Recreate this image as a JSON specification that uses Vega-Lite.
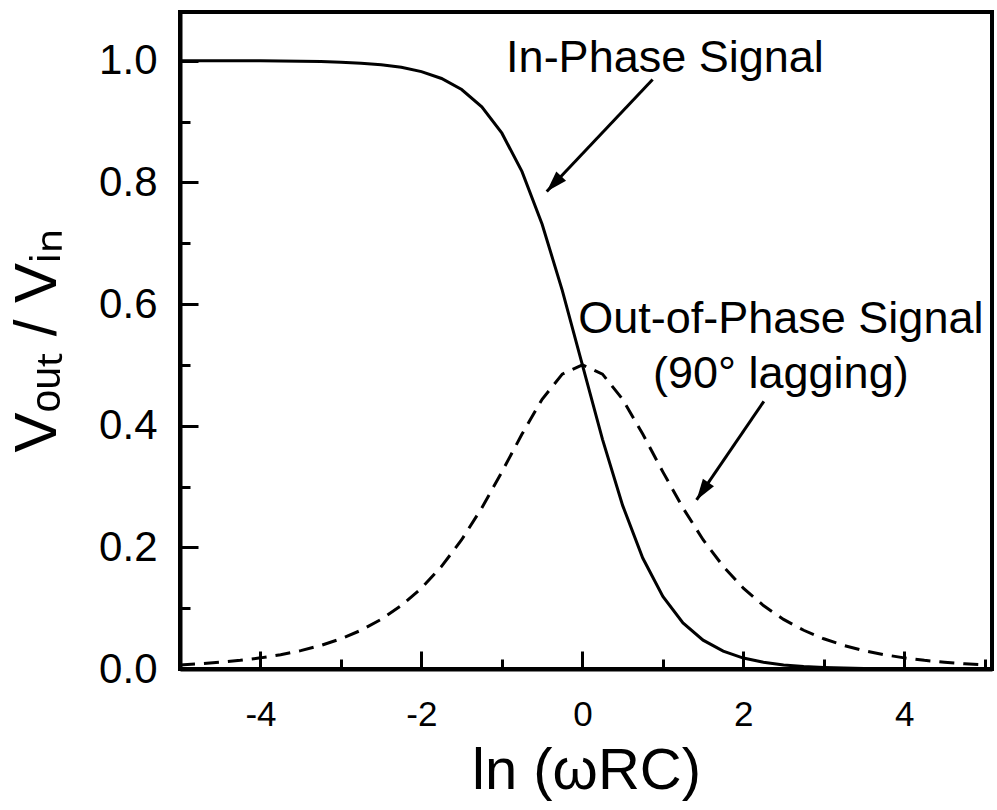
{
  "$schema": "https://vega.github.io/schema/vega-lite/v6.json",
  "width": 812,
  "height": 657,
  "autosize": {"type": "none"},
  "padding": {"left": 180, "top": 12, "right": 5, "bottom": 141},
  "background": "white",
  "config": {
    "view": {"stroke": "black", "strokeWidth": 4},
    "font": "Liberation Sans",
    "axis": {"grid": false, "domainColor": "black", "tickColor": "black", "labelColor": "black", "titleColor": "black", "titleFontWeight": "normal", "labelFont": "Liberation Sans", "titleFont": "Liberation Sans"}
  },
  "datasets": {
    "curves": [
      {"x": -5, "y": 0.99995, "s": "in"}, {"x": -4.75, "y": 0.99993, "s": "in"}, {"x": -4.5, "y": 0.99988, "s": "in"}, {"x": -4.25, "y": 0.9998, "s": "in"},
      {"x": -4, "y": 0.99966, "s": "in"}, {"x": -3.75, "y": 0.99945, "s": "in"}, {"x": -3.5, "y": 0.99909, "s": "in"}, {"x": -3.25, "y": 0.9985, "s": "in"},
      {"x": -3, "y": 0.99753, "s": "in"}, {"x": -2.75, "y": 0.99593, "s": "in"}, {"x": -2.5, "y": 0.99331, "s": "in"}, {"x": -2.25, "y": 0.98901, "s": "in"},
      {"x": -2, "y": 0.98201, "s": "in"}, {"x": -1.75, "y": 0.97069, "s": "in"}, {"x": -1.5, "y": 0.95257, "s": "in"}, {"x": -1.25, "y": 0.92414, "s": "in"},
      {"x": -1, "y": 0.8808, "s": "in"}, {"x": -0.75, "y": 0.81757, "s": "in"}, {"x": -0.5, "y": 0.73106, "s": "in"}, {"x": -0.25, "y": 0.62246, "s": "in"},
      {"x": 0, "y": 0.5, "s": "in"}, {"x": 0.25, "y": 0.37754, "s": "in"}, {"x": 0.5, "y": 0.26894, "s": "in"}, {"x": 0.75, "y": 0.18243, "s": "in"},
      {"x": 1, "y": 0.1192, "s": "in"}, {"x": 1.25, "y": 0.07586, "s": "in"}, {"x": 1.5, "y": 0.04743, "s": "in"}, {"x": 1.75, "y": 0.02931, "s": "in"},
      {"x": 2, "y": 0.01799, "s": "in"}, {"x": 2.25, "y": 0.01099, "s": "in"}, {"x": 2.5, "y": 0.00669, "s": "in"}, {"x": 2.75, "y": 0.00407, "s": "in"},
      {"x": 3, "y": 0.00247, "s": "in"}, {"x": 3.25, "y": 0.0015, "s": "in"}, {"x": 3.5, "y": 0.00091, "s": "in"}, {"x": 3.75, "y": 0.00055, "s": "in"},
      {"x": 4, "y": 0.00034, "s": "in"}, {"x": 4.25, "y": 0.0002, "s": "in"}, {"x": 4.5, "y": 0.00012, "s": "in"}, {"x": 4.75, "y": 0.00007, "s": "in"},
      {"x": 5, "y": 0.00005, "s": "in"},
      {"x": -5, "y": 0.00674, "s": "out"}, {"x": -4.75, "y": 0.00865, "s": "out"}, {"x": -4.5, "y": 0.01111, "s": "out"}, {"x": -4.25, "y": 0.01426, "s": "out"},
      {"x": -4, "y": 0.01831, "s": "out"}, {"x": -3.75, "y": 0.0235, "s": "out"}, {"x": -3.5, "y": 0.03017, "s": "out"}, {"x": -3.25, "y": 0.03871, "s": "out"},
      {"x": -3, "y": 0.04966, "s": "out"}, {"x": -2.75, "y": 0.06367, "s": "out"}, {"x": -2.5, "y": 0.08154, "s": "out"}, {"x": -2.25, "y": 0.10424, "s": "out"},
      {"x": -2, "y": 0.1329, "s": "out"}, {"x": -1.75, "y": 0.16868, "s": "out"}, {"x": -1.5, "y": 0.21255, "s": "out"}, {"x": -1.25, "y": 0.26477, "s": "out"},
      {"x": -1, "y": 0.32403, "s": "out"}, {"x": -0.75, "y": 0.38619, "s": "out"}, {"x": -0.5, "y": 0.44341, "s": "out"}, {"x": -0.25, "y": 0.48477, "s": "out"},
      {"x": 0, "y": 0.5, "s": "out"}, {"x": 0.25, "y": 0.48477, "s": "out"}, {"x": 0.5, "y": 0.44341, "s": "out"}, {"x": 0.75, "y": 0.38619, "s": "out"},
      {"x": 1, "y": 0.32403, "s": "out"}, {"x": 1.25, "y": 0.26477, "s": "out"}, {"x": 1.5, "y": 0.21255, "s": "out"}, {"x": 1.75, "y": 0.16868, "s": "out"},
      {"x": 2, "y": 0.1329, "s": "out"}, {"x": 2.25, "y": 0.10424, "s": "out"}, {"x": 2.5, "y": 0.08154, "s": "out"}, {"x": 2.75, "y": 0.06367, "s": "out"},
      {"x": 3, "y": 0.04966, "s": "out"}, {"x": 3.25, "y": 0.03871, "s": "out"}, {"x": 3.5, "y": 0.03017, "s": "out"}, {"x": 3.75, "y": 0.0235, "s": "out"},
      {"x": 4, "y": 0.01831, "s": "out"}, {"x": 4.25, "y": 0.01426, "s": "out"}, {"x": 4.5, "y": 0.01111, "s": "out"}, {"x": 4.75, "y": 0.00865, "s": "out"},
      {"x": 5, "y": 0.00674, "s": "out"}
    ],
    "labels": [
      {"x": 1.026, "y": 0.982, "label": "In-Phase Signal"},
      {"x": 2.466, "y": 0.553, "label": "Out-of-Phase Signal"},
      {"x": 2.466, "y": 0.462, "label": "(90° lagging)"}
    ],
    "arrows": [
      {"x0": 0.873, "y0": 0.969, "x1": -0.443, "y1": 0.785, "angle": 223.5},
      {"x0": 2.255, "y0": 0.44, "x1": 1.419, "y1": 0.278, "angle": 214.4}
    ]
  },
  "layer": [
    {
      "data": {"name": "curves"},
      "transform": [{"filter": "datum.s === 'in'"}],
      "mark": {"type": "line", "color": "black", "strokeWidth": 3},
      "encoding": {
        "x": {"field": "x", "type": "quantitative", "scale": {"domain": [-5, 5.09], "nice": false, "zero": false},
          "axis": {"orient": "bottom", "values": [-4, -2, 0, 2, 4], "labelExpr": "(datum.value < 0 ? '-' : '') + abs(datum.value)", "tickSize": -18, "tickWidth": 3, "domainWidth": 4, "labelFontSize": 35, "labelPadding": 46, "title": "ln (ωRC)", "titleFontSize": 58, "titlePadding": 10}},
        "y": {"field": "y", "type": "quantitative", "scale": {"domain": [0, 1.08], "nice": false, "zero": false},
          "axis": {"orient": "left", "values": [0, 0.2, 0.4, 0.6, 0.8, 1.0], "format": ".1f", "tickSize": -18, "tickWidth": 3, "domainWidth": 4, "labelFontSize": 42, "labelPadding": 41, "title": "Vₒᵤₜ / Vᵢₙ", "titleFontSize": 60, "titlePadding": 30}}
      }
    },
    {
      "data": {"name": "curves"},
      "transform": [{"filter": "datum.s === 'out'"}],
      "mark": {"type": "line", "color": "black", "strokeWidth": 3, "strokeDash": [15, 9]},
      "encoding": {
        "x": {"field": "x", "type": "quantitative",
          "axis": {"orient": "bottom", "values": [-3, -1, 1, 3, 5], "tickSize": -10, "tickWidth": 3, "domain": false, "labels": false, "title": null}},
        "y": {"field": "y", "type": "quantitative",
          "axis": {"orient": "left", "values": [0.1, 0.3, 0.5, 0.7, 0.9], "tickSize": -10, "tickWidth": 3, "domain": false, "labels": false, "title": null}}
      }
    },
    {
      "data": {"name": "labels"},
      "mark": {"type": "text", "align": "center", "baseline": "alphabetic", "fontSize": 45, "color": "black", "font": "Liberation Sans"},
      "encoding": {
        "x": {"field": "x", "type": "quantitative", "axis": null},
        "y": {"field": "y", "type": "quantitative", "axis": null},
        "text": {"field": "label"}
      }
    },
    {
      "data": {"name": "arrows"},
      "mark": {"type": "rule", "color": "black", "strokeWidth": 3},
      "encoding": {
        "x": {"field": "x0", "type": "quantitative", "axis": null},
        "y": {"field": "y0", "type": "quantitative", "axis": null},
        "x2": {"field": "x1"},
        "y2": {"field": "y1"}
      }
    },
    {
      "data": {"name": "arrows"},
      "mark": {"type": "point", "shape": "M0,0L0.32,1L-0.32,1Z", "filled": true, "color": "black", "opacity": 1, "size": 1764, "strokeWidth": 0},
      "encoding": {
        "x": {"field": "x1", "type": "quantitative", "axis": null},
        "y": {"field": "y1", "type": "quantitative", "axis": null},
        "angle": {"field": "angle", "type": "quantitative", "scale": null}
      }
    }
  ],
  "resolve": {"axis": {"x": "independent", "y": "independent"}}
}
